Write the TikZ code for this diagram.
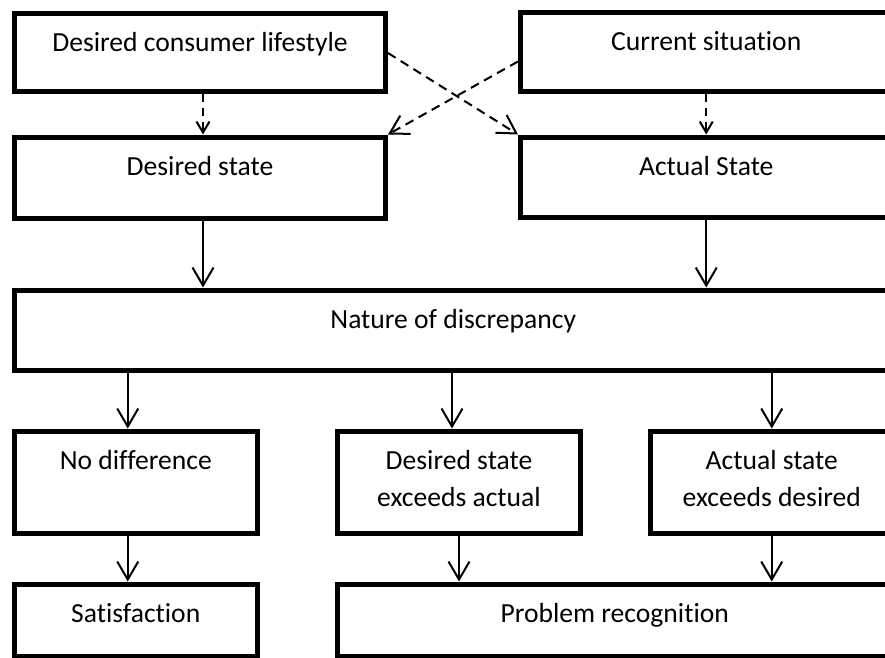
\documentclass[tikz,border=0pt]{standalone}
\usepackage{fontspec}
\setmainfont{Carlito}[Ligatures={NoCommon}]
\usetikzlibrary{arrows.meta}

% A framed box given by its border corners (left, top, right, bottom);
% the text hangs from the top edge.
\newcommand\flowbox[6]{%
  \pgfmathsetmacro\fbw{#4-#2}\pgfmathsetmacro\fbh{#5-#3}%
  \pgfmathsetmacro\fbx{(#2+#4)/2}\pgfmathsetmacro\fby{(#3+#5)/2}%
  \node[box] (#1) at (\fbx,\fby)
    {\parbox[c][\fbh pt][t]{\fbw pt}{\centering\rule{0pt}{38pt}#6}};}

\tikzset{
  box/.style={draw=black, line width=5pt, inner sep=0pt, fill=white,
    font=\fontsize{27.6}{37}\selectfont},
  arr/.style={line width=2pt, -{Straight Barb[length=18pt, width=21pt, line width=2pt]}},
  darr/.style={arr, dash pattern=on 9pt off 6pt},
  dsmall/.style={line width=2pt, dash pattern=on 8pt off 6pt,
    -{Straight Barb[length=11pt, width=13pt, line width=2pt]}},
}

\begin{document}
\begin{tikzpicture}[x=1pt, y=-1pt]
  \useasboundingbox (0,0) rectangle (885,657);

  \flowbox{lifestyle}{14.5}{13}{385.5}{91}{Desired consumer lifestyle}
  \flowbox{current}{520.5}{12}{892}{91}{Current situation}
  \flowbox{desired}{14.5}{137}{385.5}{218}{Desired state}
  \flowbox{actual}{520.5}{137}{892}{217}{Actual State}
  \flowbox{nature}{14.5}{290}{892}{370}{Nature of discrepancy}
  \flowbox{nodiff}{14.5}{431}{257}{533}{No difference}
  \flowbox{dexceeds}{337.5}{431}{580.5}{533}{Desired state\\exceeds actual}
  \flowbox{aexceeds}{650.5}{431}{893}{533}{Actual state\\exceeds desired}
  \flowbox{satisf}{14.5}{584}{257}{656.5}{Satisfaction}
  \flowbox{problem}{337.5}{584}{892}{656.5}{Problem recognition}

  % influences on the two states
  \draw[dsmall] ([xshift=3pt]lifestyle.south) -- ([xshift=3pt]desired.north);
  \draw[dsmall] (current.south) -- (actual.north);
  \draw[darr] ([yshift=-1pt]lifestyle.east) -- (actual.north west);
  \draw[darr] ([yshift=-10pt]current.west) -- (desired.north east);

  % states feed the comparison
  \draw[arr] ([xshift=3pt]desired.south) -- ([xshift=3pt]desired.south |- nature.north);
  \draw[arr] (actual.south) -- (actual.south |- nature.north);

  % outcomes of the comparison
  \draw[arr] ([xshift=-8pt]nodiff.north |- nature.south) -- ([xshift=-8pt]nodiff.north);
  \draw[arr] ([xshift=-7pt]dexceeds.north |- nature.south) -- ([xshift=-7pt]dexceeds.north);
  \draw[arr] (aexceeds.north |- nature.south) -- (aexceeds.north);

  \draw[arr] ([xshift=-8pt]nodiff.south) -- ([xshift=-8pt]satisf.north);
  \draw[arr] (dexceeds.south) -- (dexceeds.south |- problem.north);
  \draw[arr] (aexceeds.south) -- (aexceeds.south |- problem.north);
\end{tikzpicture}
\end{document}
